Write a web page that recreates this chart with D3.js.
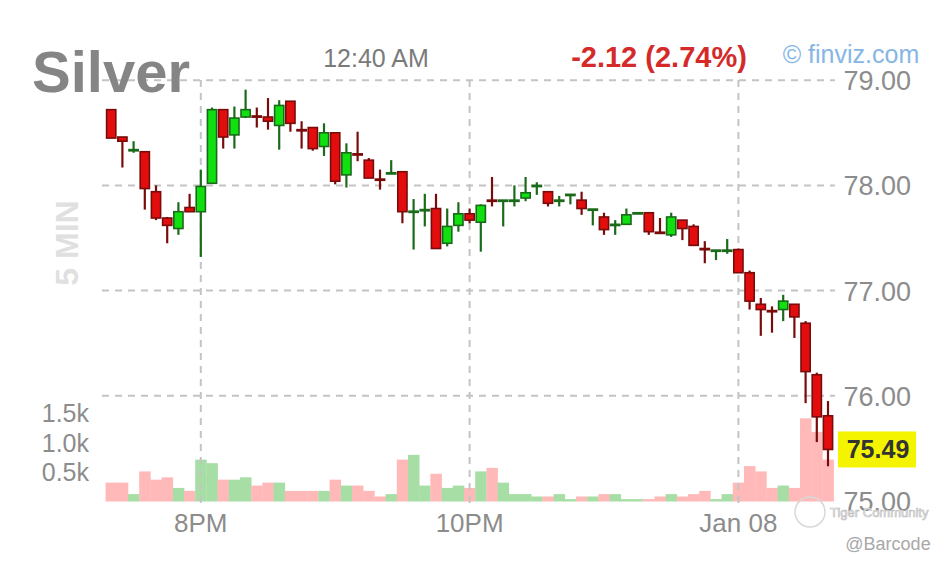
<!DOCTYPE html>
<html><head><meta charset="utf-8">
<script src="https://cdn.jsdelivr.net/npm/d3@7"></script>
<style>html,body{margin:0;padding:0;background:#fff;}svg{display:block;font-family:"Liberation Sans",Arial,sans-serif;}</style>
</head><body>
<script>
// ---- data (5-minute bars, Jan 7 19:20 -> Jan 8 00:40) ----
const times = ["19:20","19:25","19:30","19:35","19:40","19:45","19:50","19:55","20:00","20:05","20:10","20:15","20:20","20:25","20:30","20:35","20:40","20:45","20:50","20:55","21:00","21:05","21:10","21:15","21:20","21:25","21:30","21:35","21:40","21:45","21:50","21:55","22:00","22:05","22:10","22:15","22:20","22:25","22:30","22:35","22:40","22:45","22:50","22:55","23:00","23:05","23:10","23:15","23:20","23:25","23:30","23:35","23:40","23:45","23:50","23:55","00:00","00:05","00:10","00:15","00:20","00:25","00:30","00:35","00:40"];
const opens  = [78.72,78.46,78.33,78.32,77.94,77.69,77.59,77.79,77.75,78.02,78.72,78.48,78.65,78.66,78.65,78.57,78.80,78.53,78.55,78.37,78.50,78.10,78.30,78.24,78.06,78.11,78.13,77.75,77.76,77.78,77.45,77.62,77.73,77.65,77.86,77.85,77.85,77.88,77.99,77.94,77.855,77.91,77.86,77.77,77.70,77.62,77.63,77.735,77.74,77.555,77.53,77.67,77.61,77.40,77.38,77.38,77.39,77.17,76.87,76.81,76.82,76.87,76.69,76.20,75.81];
const highs  = [78.72,78.46,78.42,78.32,78.00,77.70,77.84,77.92,78.15,78.74,78.72,78.75,78.91,78.74,78.83,78.81,78.80,78.61,78.55,78.59,78.50,78.40,78.51,78.26,78.15,78.24,78.13,77.87,77.92,77.92,77.78,77.84,77.78,77.82,78.08,77.86,78.00,78.08,78.03,77.94,77.90,77.91,77.94,77.775,77.74,77.67,77.78,77.74,77.74,77.69,77.74,77.67,77.63,77.47,77.385,77.49,77.40,77.19,76.93,76.85,76.96,76.87,76.71,76.22,75.95];
const lows   = [78.45,78.17,78.31,77.77,77.67,77.45,77.53,77.75,77.32,78.02,78.35,78.35,78.64,78.55,78.53,78.34,78.51,78.35,78.33,78.28,78.01,77.98,78.23,78.07,77.96,78.11,77.64,77.39,77.61,77.40,77.42,77.56,77.64,77.37,77.80,77.61,77.80,77.85,77.91,77.80,77.80,77.82,77.72,77.62,77.53,77.53,77.63,77.73,77.53,77.55,77.51,77.48,77.43,77.26,77.29,77.35,77.17,76.82,76.57,76.60,76.71,76.55,75.93,75.56,75.33];
const closes = [78.45,78.42,78.34,77.97,77.69,77.62,77.75,77.75,77.99,78.72,78.46,78.64,78.72,78.65,78.61,78.76,78.59,78.52,78.35,78.50,78.04,78.31,78.29,78.07,78.05,78.12,77.75,77.755,77.77,77.40,77.61,77.73,77.67,77.81,77.85,77.86,77.86,77.93,78.00,77.83,77.86,77.915,77.78,77.775,77.58,77.63,77.72,77.74,77.56,77.55,77.70,77.59,77.43,77.39,77.385,77.385,77.17,76.90,76.82,76.80,76.90,76.75,76.23,75.80,75.49];
const volumes= [0.32,0.32,0.125,0.51,0.37,0.41,0.23,0.18,0.71,0.65,0.37,0.37,0.41,0.27,0.32,0.32,0.18,0.18,0.18,0.18,0.37,0.27,0.27,0.18,0.085,0.125,0.71,0.79,0.27,0.47,0.23,0.27,0.23,0.51,0.57,0.32,0.125,0.125,0.085,0.085,0.125,0.04,0.085,0.085,0.125,0.125,0.04,0.04,0.04,0.085,0.125,0.085,0.125,0.18,0.04,0.125,0.32,0.60,0.51,0.23,0.27,0.23,1.41,1.18,0.71];
const priceTicks = [79,78,77,76,75];
const volTicks = [0.5,1.0,1.5];
const volTickLabels = ["0.5k","1.0k","1.5k"];
const timeTicks = ["2026-01-07T20:00","2026-01-07T22:00","2026-01-08T00:00"];
const timeTickLabels = ["8PM","10PM","Jan 08"];
const title = "Silver", timeLabel = "12:40 AM", changeLabel = "-2.12 (2.74%)", brand = "\u00a9 finviz.com", interval = "5 MIN";
const lastPrice = 75.49;

// ---- build ----
const W = 945, H = 564;
const parse = t => { const d = t < "12" ? "2026-01-08" : "2026-01-07"; return new Date(d + "T" + t); };
const bars = times.map((t,i)=>({t:parse(t),o:opens[i],h:highs[i],l:lows[i],c:closes[i],v:volumes[i]}));

const x = d3.scaleTime().domain([bars[0].t, bars[bars.length-1].t]).range([111.2, 828]);
const step = x(bars[1].t) - x(bars[0].t);
const y = d3.scaleLinear().domain([75,79]).range([501,80.2]);
const yv = d3.scaleLinear().domain([0,1.5]).range([501.5,413]);

const svg = d3.select("body").append("svg").attr("width",W).attr("height",H);
const gray = "#8c8c8c";

// volume bars
svg.append("g").selectAll("rect").data(bars).join("rect")
  .attr("x", d=>x(d.t)-step/2).attr("width", step+0.3)
  .attr("y", d=>yv(d.v)).attr("height", d=>yv(0)-yv(d.v))
  .attr("fill", d=> d.c>=d.o ? "#a6dea6" : "#ffb9b9");

// grid
const grid = svg.append("g").attr("stroke","#c4c4c4").attr("stroke-width",2).attr("stroke-dasharray","7,6");
grid.selectAll("line.h").data(priceTicks.filter(p=>p>75)).join("line")
  .attr("x1",102).attr("x2",835).attr("y1",d=>y(d)).attr("y2",d=>y(d));
grid.selectAll("line.v").data(timeTicks).join("line")
  .attr("x1",d=>x(new Date(d))).attr("x2",d=>x(new Date(d))).attr("y1",80).attr("y2",505);

// candles
const cg = svg.append("g").selectAll("g").data(bars).join("g");
cg.append("line")
  .attr("x1",d=>x(d.t)).attr("x2",d=>x(d.t))
  .attr("y1",d=>y(d.h)).attr("y2",d=>y(d.l))
  .attr("stroke",d=>d.c>=d.o?"#1a6a1a":"#7a0b0b").attr("stroke-width",2.2);
cg.append("rect")
  .attr("x",d=>x(d.t)-4.6).attr("width",9.2)
  .attr("y",d=>y(Math.max(d.o,d.c))).attr("height",d=>Math.max(1.2,Math.abs(y(d.o)-y(d.c))))
  .attr("fill",d=>d.c>=d.o?"#10e010":"#e40d0d")
  .attr("stroke",d=>d.c>=d.o?"#1a6a1a":"#7a0b0b").attr("stroke-width",1.6);

// price axis labels
svg.append("g").selectAll("text").data(priceTicks).join("text")
  .attr("x",911).attr("y",d=>y(d)+10).attr("text-anchor","end")
  .attr("font-size",27).attr("fill",gray).text(d=>d3.format(".2f")(d));

// last price box
const lp = svg.append("g");
lp.append("rect").attr("x",838).attr("y",y(lastPrice)-18).attr("width",78).attr("height",36).attr("fill","#f4f300");
lp.append("text").attr("x",878).attr("y",y(lastPrice)+9).attr("text-anchor","middle")
  .attr("font-size",25).attr("font-weight","bold").attr("fill","#333").text(d3.format(".2f")(lastPrice));

// volume labels
svg.append("g").selectAll("text").data(volTicks).join("text")
  .attr("x",89).attr("y",d=>yv(d)+9).attr("text-anchor","end")
  .attr("font-size",25).attr("fill",gray).text((d,i)=>volTickLabels[i]);

// time labels
svg.append("g").selectAll("text").data(timeTicks).join("text")
  .attr("x",d=>x(new Date(d))).attr("y",532).attr("text-anchor","middle")
  .attr("font-size",26).attr("fill",gray).text((d,i)=>timeTickLabels[i]);

// header
svg.append("text").attr("x",32).attr("y",92).attr("font-size",58).attr("font-weight","bold").attr("fill","#858585").text(title);
svg.append("text").attr("x",376).attr("y",67).attr("text-anchor","middle").attr("font-size",25).attr("fill","#7a7a7a").text(timeLabel);
svg.append("text").attr("x",659).attr("y",67).attr("text-anchor","middle").attr("font-size",29).attr("font-weight","bold").attr("fill","#d42a2a").text(changeLabel);
svg.append("text").attr("x",851).attr("y",63).attr("text-anchor","middle").attr("font-size",25).attr("fill","#86b6e6").text(brand);

// interval label
svg.append("text").attr("transform","translate(78,243) rotate(-90)").attr("text-anchor","middle")
  .attr("font-size",32).attr("font-weight","bold").attr("fill","#e0e0e0").text(interval);

// watermark
const wm = svg.append("g");
wm.append("circle").attr("cx",810).attr("cy",512).attr("r",15).attr("fill","none").attr("stroke","#d8d8d8").attr("stroke-width",1.5);
wm.append("text").attr("x",830).attr("y",517).attr("font-size",13).attr("fill","#fff").attr("stroke","#bdbdbd").attr("stroke-width",0.7).text("Tiger Community");
svg.append("text").attr("x",888).attr("y",550).attr("text-anchor","middle").attr("font-size",18).attr("fill","#a8a8a8").text("@Barcode");
</script>
</body></html>
